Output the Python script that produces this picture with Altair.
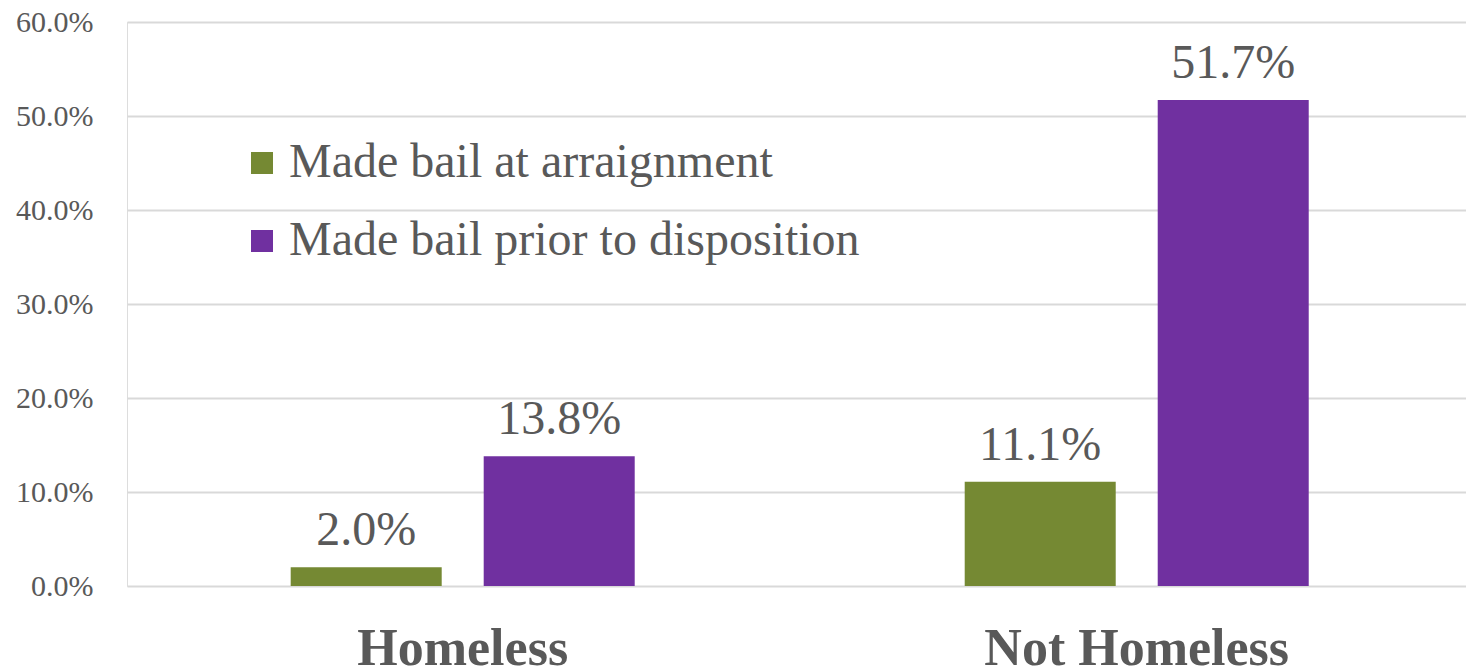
import altair as alt
import pandas as pd

categories = ["Homeless", "Homeless", "Not Homeless", "Not Homeless"]
series = ["Made bail at arraignment", "Made bail prior to disposition",
          "Made bail at arraignment", "Made bail prior to disposition"]
values = [0.020, 0.138, 0.111, 0.517]
series_order = ["Made bail at arraignment", "Made bail prior to disposition"]
colors = ["#758933", "#7030A0"]

df = pd.DataFrame({"cat": categories, "series": series, "value": values})
df["label"] = [f"{v*100:.1f}%" for v in values]

FONT = "Liberation Serif"
TXT = "#595959"

base = alt.Chart(df).encode(
    x=alt.X("cat:N", sort=["Homeless", "Not Homeless"],
            scale=alt.Scale(paddingInner=0.4896, paddingOuter=0.2381, align=0.51),
            axis=alt.Axis(title=None, labelAngle=0, labelFont=FONT, labelFontSize=52,
                          labelFontWeight="bold", labelColor=TXT, labelPadding=78,
                          labelLimit=0, ticks=False, domain=False, labelBaseline="alphabetic")),
    xOffset=alt.XOffset("series:N", sort=series_order,
                        scale=alt.Scale(paddingInner=0.2176, paddingOuter=0)),
)

bars = base.mark_bar().encode(
    y=alt.Y("value:Q", scale=alt.Scale(domain=[0, 0.6]),
            axis=alt.Axis(title=None, format=".1%", values=[0, 0.1, 0.2, 0.3, 0.4, 0.5, 0.6],
                          labelFont=FONT, labelFontSize=30, labelColor=TXT, labelPadding=34,
                          ticks=False, domain=False, gridColor="#d9d9d9", gridWidth=2)),
    color=alt.Color("series:N", sort=series_order,
                    scale=alt.Scale(domain=series_order, range=colors),
                    legend=alt.Legend(title=None, orient="none", legendX=111, legendY=117,
                                      labelFont=FONT, labelFontSize=48, labelColor=TXT,
                                      symbolType="square", symbolSize=484, symbolStrokeWidth=0,
                                      symbolOpacity=1, rowPadding=30, labelOffset=3,
                                      labelLimit=900)),
)

labels = base.mark_text(baseline="bottom", dy=-12, font=FONT, fontSize=48, color=TXT).encode(
    y=alt.Y("value:Q"),
    text="label:N",
)

chart = alt.layer(bars, labels).properties(
    width=1339, height=564,
    autosize=alt.AutoSizeParams(type="none"),
    padding={"left": 127, "top": 22, "right": 0, "bottom": 85},
).configure_view(stroke=None).configure(background="white")

chart.save("out.html", embed_options={"renderer": "svg", "actions": False})
